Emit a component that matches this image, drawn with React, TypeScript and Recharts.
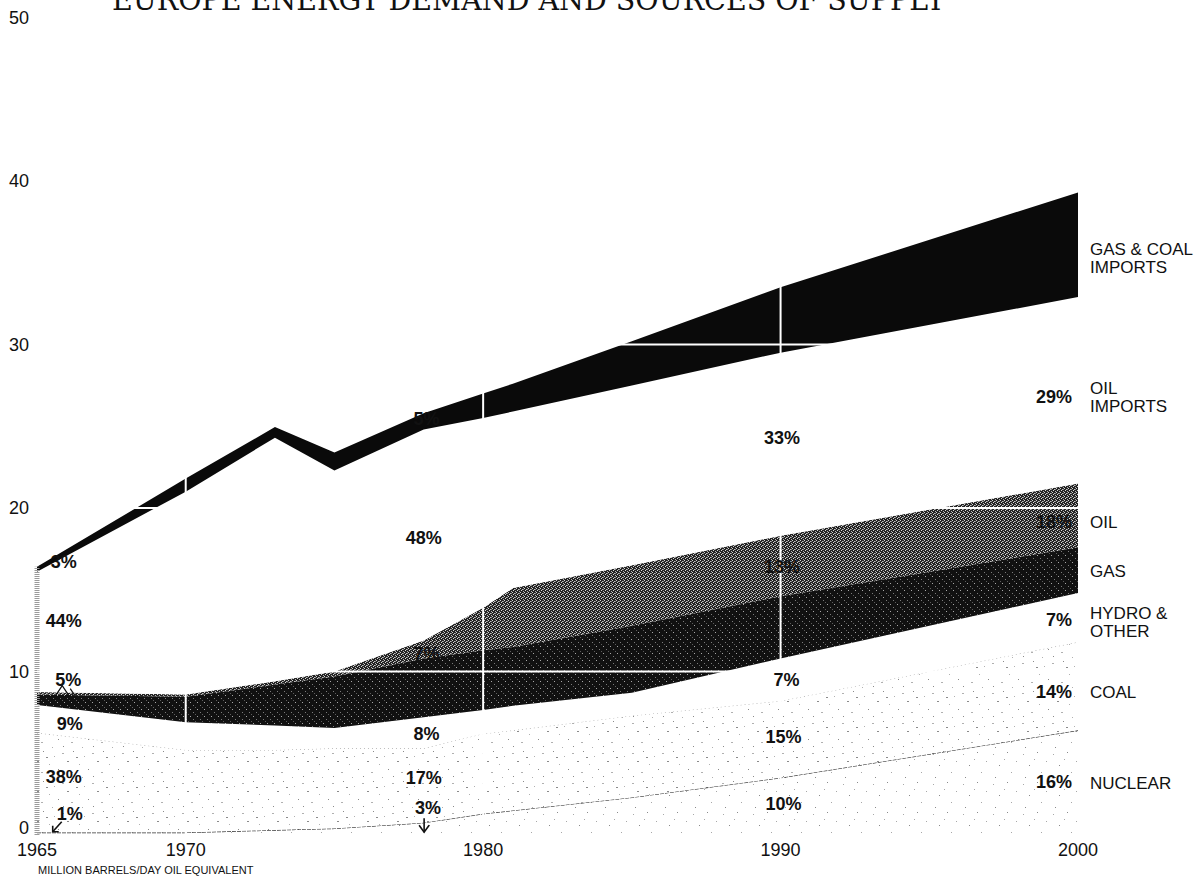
import React from "react";
import { AreaChart, Area, XAxis, YAxis, ReferenceLine, ReferenceDot } from "recharts";

// million barrels/day oil equivalent, stacked from the bottom up
const years = [1965, 1970, 1973, 1975, 1978, 1980, 1981, 1985, 1990, 2000];
const nuclear = [0.15, 0.15, 0.3, 0.4, 0.75, 1.3, 1.5, 2.3, 3.5, 6.4];
const coal = [6.1, 5.05, 4.9, 4.9, 4.55, 4.9, 4.9, 5.0, 4.7, 5.4];
const hydro = [1.7, 1.7, 1.5, 1.25, 1.9, 1.45, 1.5, 1.4, 2.6, 3.0];
const gas = [0.65, 1.55, 2.5, 3.15, 3.6, 3.65, 3.6, 4.1, 3.8, 2.8];
const oil = [0.15, 0.15, 0.2, 0.3, 1.1, 2.6, 3.6, 3.7, 3.7, 3.9];
const oilImports = [7.35, 12.4, 14.9, 12.3, 12.9, 11.6, 10.8, 11.0, 11.2, 11.4];
const gasCoalImports = [0.3, 0.8, 0.65, 1.1, 1.0, 1.5, 1.7, 2.7, 4.0, 6.4];

const xTicks = [1965, 1970, 1980, 1990, 2000];
const yTicks = [0, 10, 20, 30, 40, 50];
const gridYears = [1970, 1980, 1990];
const gridValues = [10, 20, 30];

// share labels inside the chart: [year, value, text, arrow]
const shareNotes: [number, number, string, string?][] = [
  [1965.9, 16.7, "3%"],
  [1965.9, 13.1, "44%"],
  [1966.05, 9.5, "5%", "vee"],
  [1966.1, 6.8, "9%"],
  [1965.9, 3.55, "38%"],
  [1966.1, 1.3, "1%", "downLeft"],
  [1978.0, 18.2, "48%"],
  [1978.1, 25.5, "5%"],
  [1978.1, 11.1, "7%"],
  [1978.1, 6.2, "8%"],
  [1978.0, 3.5, "17%"],
  [1978.15, 1.7, "3%", "down"],
  [1990.05, 24.3, "33%"],
  [1990.05, 16.4, "13%"],
  [1990.2, 9.5, "7%"],
  [1990.1, 6.0, "15%"],
  [1990.1, 1.95, "10%"],
];

// shares at 2000, right-aligned against the last column
const endShares: [number, string][] = [
  [26.85, "29%"],
  [19.15, "18%"],
  [13.15, "7%"],
  [8.75, "14%"],
  [3.25, "16%"],
];

const seriesNames: [number, string[]][] = [
  [35.35, ["GAS & COAL", "IMPORTS"]],
  [26.85, ["OIL", "IMPORTS"]],
  [19.15, ["OIL"]],
  [16.15, ["GAS"]],
  [13.06, ["HYDRO &", "OTHER"]],
  [8.75, ["COAL"]],
  [3.2, ["NUCLEAR"]],
];

const data = years.map((year, i) => ({
  year,
  nuclear: nuclear[i],
  coal: coal[i],
  hydro: hydro[i],
  gas: gas[i],
  oil: oil[i],
  oilImports: oilImports[i],
  gasCoalImports: gasCoalImports[i],
}));

const firstTotal =
  nuclear[0] + coal[0] + hydro[0] + gas[0] + oil[0] + oilImports[0] + gasCoalImports[0];

const sans = "'Liberation Sans', Arial, Helvetica, sans-serif";

// sparse speckles for the stippled layers
const nucDots = [[3, 4], [17, 2], [26, 11], [9, 15], [21, 22], [5, 27], [14, 9]];
const coalDots = [[2, 3], [13, 1], [24, 6], [7, 11], [19, 14], [28, 19], [11, 22], [3, 26], [22, 27], [16, 7]];

function Note(props: any) {
  const { viewBox, lines, anchor = "middle", weight = 700, dx = 0, arrow, size = 18 } = props;
  if (!viewBox) return null;
  const x = viewBox.x + dx;
  const cy = viewBox.y;
  const lh = 18;
  const top = cy - ((lines.length - 1) * lh) / 2;
  let arrowEl = null;
  if (arrow === "down") {
    arrowEl = (
      <g stroke="#111" strokeWidth={1.6} fill="none">
        <path d={`M${x - 4} ${cy + 11} L${x - 4} ${cy + 25}`} />
        <path d={`M${x - 9} ${cy + 18} L${x - 4} ${cy + 25} L${x + 1} ${cy + 18}`} />
      </g>
    );
  } else if (arrow === "downLeft") {
    arrowEl = (
      <g stroke="#111" strokeWidth={1.6} fill="none">
        <path d={`M${x - 8} ${cy + 8} L${x - 17} ${cy + 18}`} />
        <path d={`M${x - 17} ${cy + 12} L${x - 17} ${cy + 18} L${x - 11} ${cy + 18}`} />
      </g>
    );
  } else if (arrow === "vee") {
    arrowEl = (
      <g stroke="#111" strokeWidth={1.2} fill="none">
        <path d={`M${x - 12} ${cy + 15} L${x - 6} ${cy + 6} L${x} ${cy + 15}`} />
        <path d={`M${x + 2} ${cy + 9} L${x + 6} ${cy + 15}`} />
      </g>
    );
  }
  return (
    <g>
      <text textAnchor={anchor} fontFamily={sans} fontSize={size} fontWeight={weight} fill="#111">
        {lines.map((l: string, i: number) => (
          <tspan key={i} x={x} y={top + i * lh + 6.5}>
            {l}
          </tspan>
        ))}
      </text>
      {arrowEl}
    </g>
  );
}

function YTick(props: any) {
  const { x, y, payload } = props;
  const lift = payload.value === 0 ? -7 : 0;
  return (
    <text x={x} y={y + lift} dy="0.355em" textAnchor="end" fontFamily={sans} fontSize={18} fill="#111">
      {payload.value}
    </text>
  );
}

export default function App() {
  return (
    <div style={{ position: "absolute", left: 0, top: 0, width: 1201, height: 879, background: "#fff" }}>
      <AreaChart
        width={1201}
        height={879}
        data={data}
        margin={{ top: 17.5, right: 123, left: 0, bottom: 14 }}
      >
        <defs>
          <pattern id="nucTex" width="30" height="30" patternUnits="userSpaceOnUse">
            <rect width="30" height="30" fill="#fff" />
            {nucDots.map(([dx, dy], i) => (
              <rect key={i} x={dx} y={dy} width="1" height="1" fill={i % 2 ? "#8a8a8a" : "#a8a8a8"} />
            ))}
          </pattern>
          <pattern id="coalTex" width="30" height="30" patternUnits="userSpaceOnUse">
            <rect width="30" height="30" fill="#fff" />
            {coalDots.map(([dx, dy], i) => (
              <rect key={i} x={dx} y={dy} width={i % 3 ? 1 : 2} height="1" fill={i % 2 ? "#8a8a8a" : "#b0b0b0"} />
            ))}
          </pattern>
          <pattern id="gasTex" width="7" height="7" patternUnits="userSpaceOnUse">
            <rect width="7" height="7" fill="#111" />
            <rect x="1" y="2" width="1" height="1" fill="#a8a8a8" />
            <rect x="4" y="5" width="1" height="1" fill="#7c7c7c" />
            <rect x="6" y="0" width="1" height="1" fill="#5c5c5c" />
          </pattern>
          <pattern id="oilTex" width="4" height="4" patternUnits="userSpaceOnUse">
            <rect width="4" height="4" fill="#242424" />
            <rect x="0" y="0" width="1" height="1" fill="#d2d2d2" />
            <rect x="2" y="1" width="1" height="1" fill="#c0c0c0" />
            <rect x="1" y="2" width="1" height="1" fill="#dadada" />
            <rect x="3" y="3" width="1" height="1" fill="#b5b5b5" />
            <rect x="3" y="1" width="1" height="1" fill="#888" />
          </pattern>
        </defs>
        <XAxis
          dataKey="year"
          type="number"
          domain={[1965, 2000]}
          ticks={xTicks}
          height={30}
          axisLine={false}
          tickLine={false}
          tick={{ fill: "#111", fontSize: 18, fontFamily: sans }}
        />
        <YAxis
          type="number"
          domain={[0, 50]}
          ticks={yTicks}
          width={37}
          axisLine={false}
          tickLine={false}
          tick={<YTick />}
        />
        <Area type="linear" dataKey="nuclear" stackId="e" fill="url(#nucTex)" fillOpacity={1}
          stroke="#333" strokeWidth={1.2} strokeDasharray="4 1" isAnimationActive={false} />
        <Area type="linear" dataKey="coal" stackId="e" fill="url(#coalTex)" fillOpacity={1}
          stroke="#999" strokeWidth={1} strokeDasharray="1 3" isAnimationActive={false} />
        <Area type="linear" dataKey="hydro" stackId="e" fill="#fff" fillOpacity={1}
          stroke="none" isAnimationActive={false} />
        <Area type="linear" dataKey="gas" stackId="e" fill="url(#gasTex)" fillOpacity={1}
          stroke="none" isAnimationActive={false} />
        <Area type="linear" dataKey="oil" stackId="e" fill="url(#oilTex)" fillOpacity={1}
          stroke="none" isAnimationActive={false} />
        <Area type="linear" dataKey="oilImports" stackId="e" fill="#fff" fillOpacity={1}
          stroke="none" isAnimationActive={false} />
        <Area type="linear" dataKey="gasCoalImports" stackId="e" fill="#0a0a0a" fillOpacity={1}
          stroke="none" isAnimationActive={false} />
        <ReferenceLine
          segment={[{ x: 1965, y: 0 }, { x: 1965, y: firstTotal }]}
          stroke="#9a9a9a"
          strokeWidth={5}
          strokeDasharray="1 1"
        />
        {gridValues.map((v) => (
          <ReferenceLine key={`gy${v}`} y={v} stroke="#fff" strokeWidth={2} />
        ))}
        {gridYears.map((yr) => (
          <ReferenceLine key={`gx${yr}`} x={yr} stroke="#fff" strokeWidth={2} />
        ))}
        {shareNotes.map(([yr, v, t, arrow], i) => (
          <ReferenceDot key={`s${i}`} x={yr} y={v} r={0} stroke="none" fill="none"
            label={<Note lines={[t]} arrow={arrow} />} />
        ))}
        {endShares.map(([v, t], i) => (
          <ReferenceDot key={`e${i}`} x={2000} y={v} r={0} stroke="none" fill="none"
            label={<Note lines={[t]} anchor="end" dx={-6} />} />
        ))}
        {seriesNames.map(([v, lines], i) => (
          <ReferenceDot key={`n${i}`} x={2000} y={v} r={0} stroke="none" fill="none"
            label={<Note lines={lines} anchor="start" weight={400} dx={12} size={17} />} />
        ))}
      </AreaChart>
      <svg width={1201} height={879} style={{ position: "absolute", left: 0, top: 0, pointerEvents: "none" }}>
        <text x={112} y={10} fontFamily="'DejaVu Serif', serif" fontSize={29} fill="#111"
          textLength={833} lengthAdjust="spacingAndGlyphs">
          EUROPE ENERGY DEMAND AND SOURCES OF SUPPLY
        </text>
        <text x={38} y={874} fontFamily={sans} fontSize={11} fill="#111">
          MILLION BARRELS/DAY OIL EQUIVALENT
        </text>
      </svg>
    </div>
  );
}
